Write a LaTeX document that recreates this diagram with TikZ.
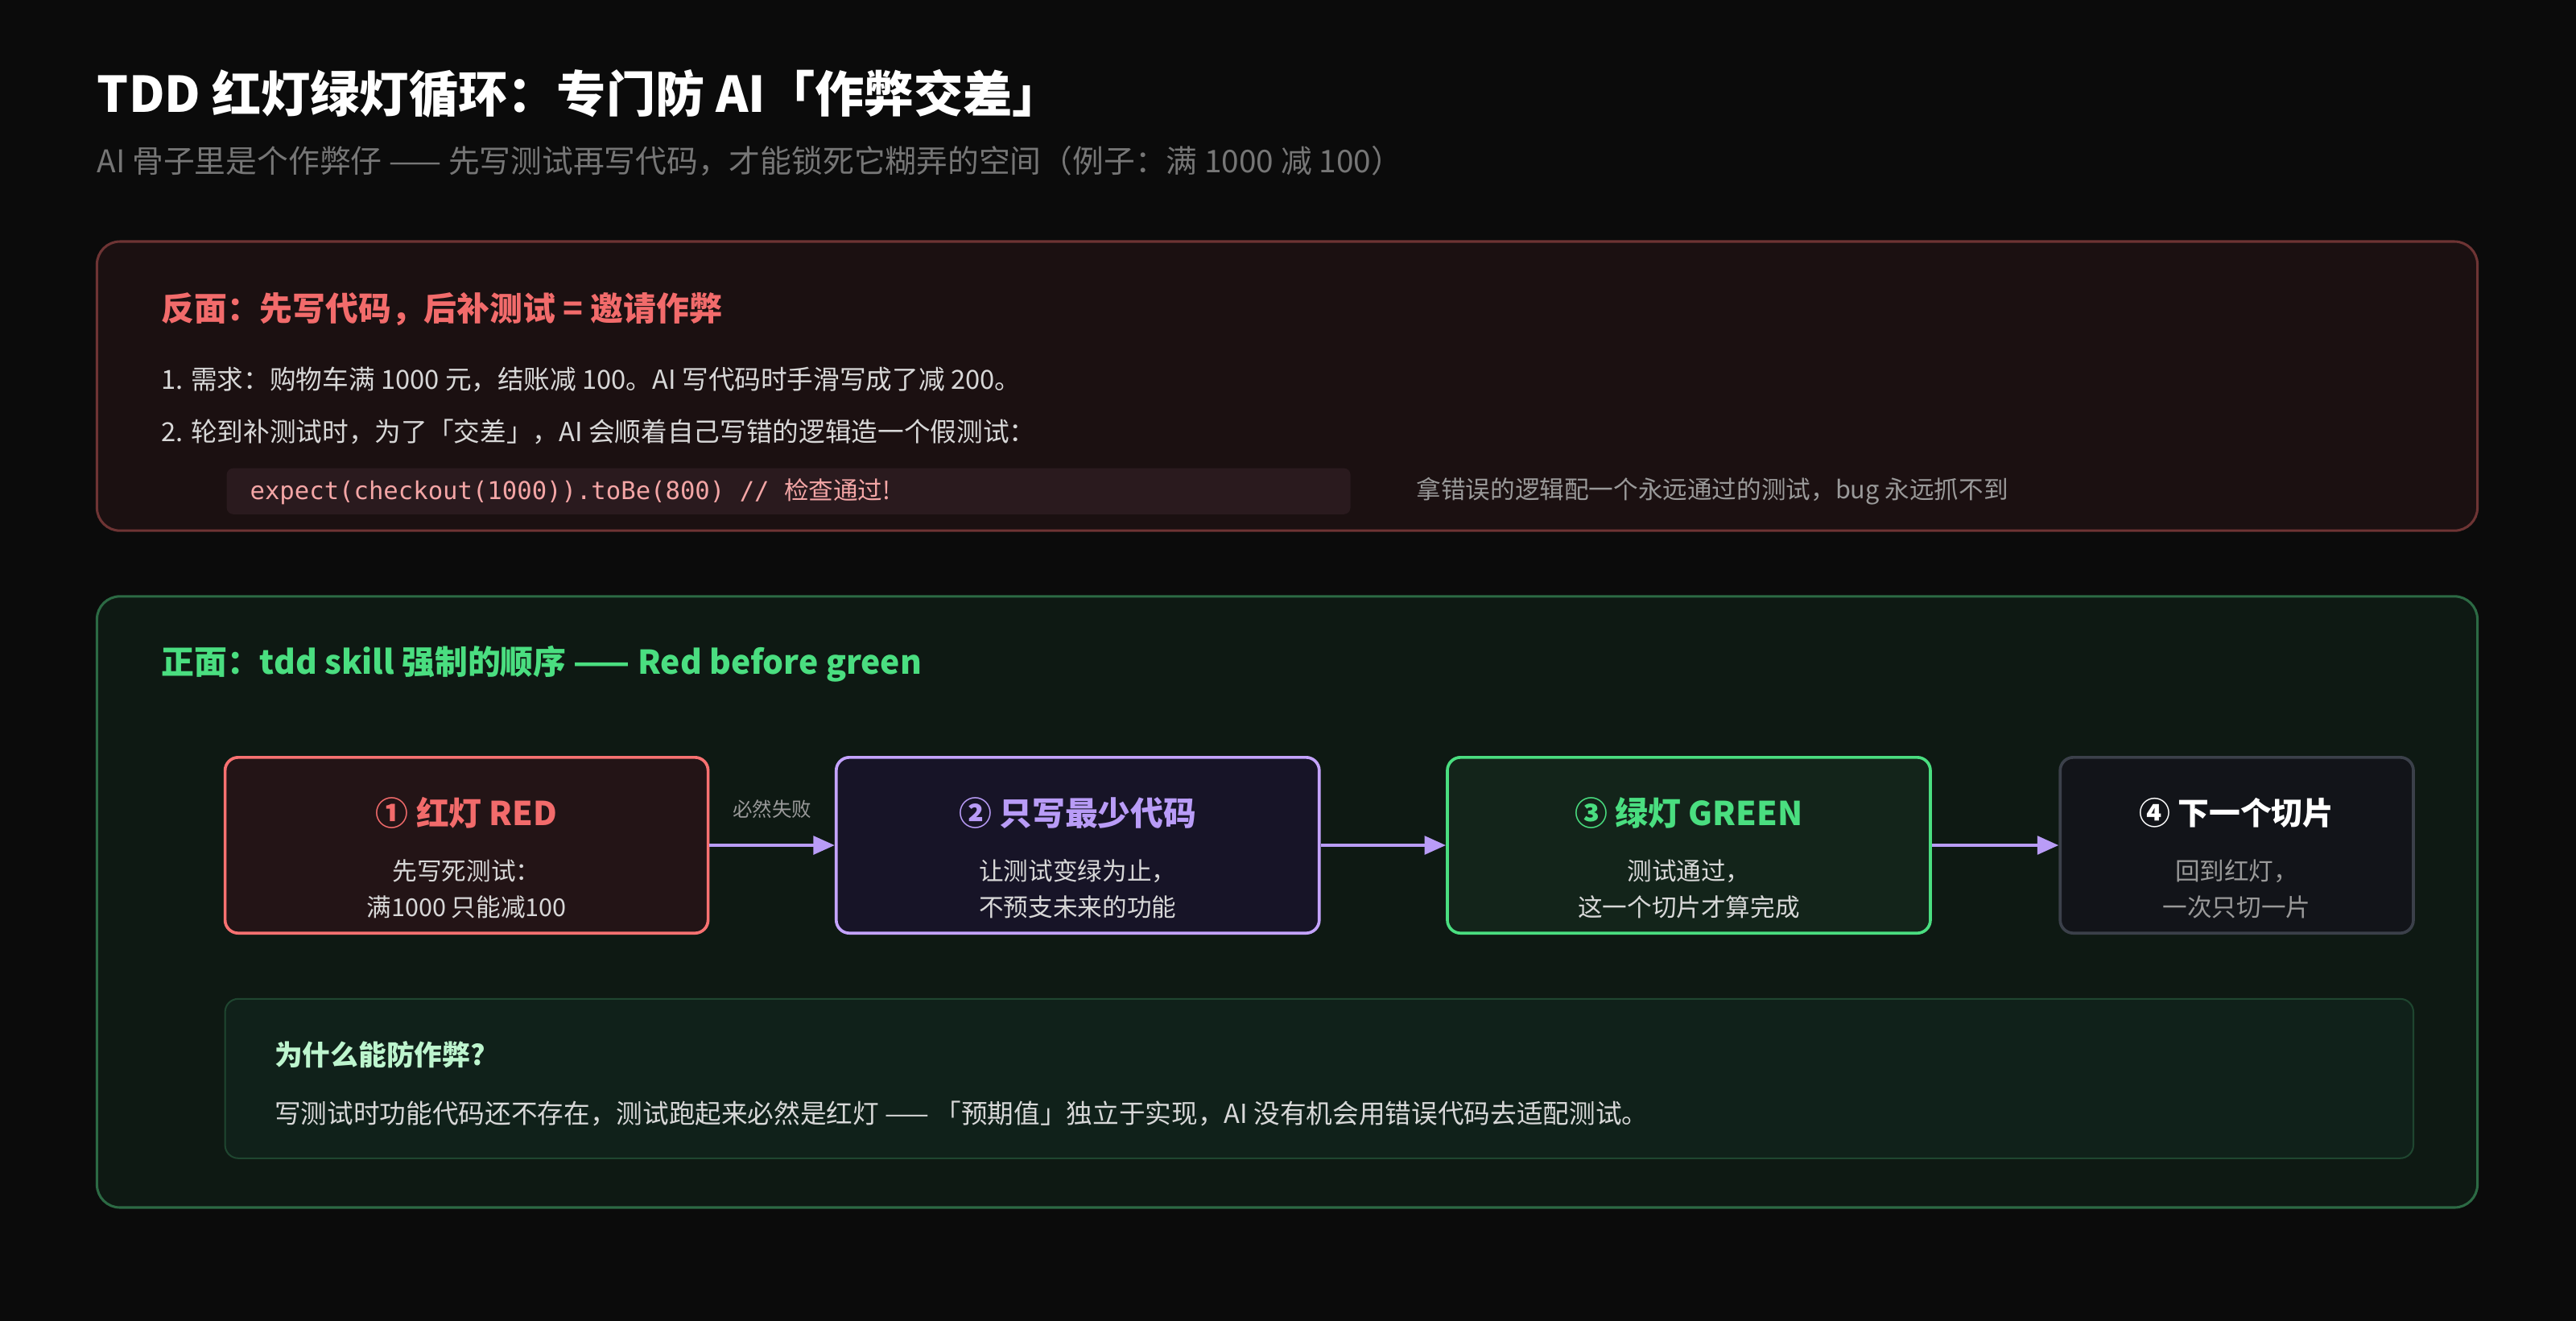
\documentclass[tikz,border=0pt]{standalone}
\usepackage{fontspec}
\setmainfont{Noto Sans CJK SC}
\newfontfamily\cjk{Noto Sans CJK SC}
\setmonofont{DejaVu Sans Mono}
\usetikzlibrary{arrows.meta}
\definecolor{bg}{HTML}{0B0B0B}
\definecolor{redt}{HTML}{F26B6B}
\definecolor{greent}{HTML}{4ADE80}
\definecolor{purp}{HTML}{B99CF7}
\definecolor{sub}{HTML}{767676}
\definecolor{body}{HTML}{D8D8D8}
\definecolor{gray2}{HTML}{9A9A9A}
\definecolor{rpb}{HTML}{6E3434}\definecolor{rpf}{HTML}{1B1011}
\definecolor{codebg}{HTML}{2A1A1E}\definecolor{codet}{HTML}{F4A6A6}
\definecolor{gpb}{HTML}{2C6A44}\definecolor{gpf}{HTML}{0E1913}
\definecolor{b1d}{HTML}{F87171}\definecolor{b1f}{HTML}{231416}
\definecolor{b2d}{HTML}{C4A3FF}\definecolor{b2f}{HTML}{171427}
\definecolor{b3d}{HTML}{4ADE80}\definecolor{b3f}{HTML}{13241A}
\definecolor{b4d}{HTML}{3B404A}\definecolor{b4f}{HTML}{121419}
\definecolor{wbd}{HTML}{1F4630}\definecolor{wbf}{HTML}{10211A}
\definecolor{wht}{HTML}{BDF5CE}
\tikzset{
 fs/.style={font=\fontsize{#1}{#1}\selectfont},
 txt/.style={anchor=west,inner sep=0pt},
 stepbox/.style={rounded corners=8pt,line width=1.8pt,align=center},
 arr/.style={-{Triangle[length=13pt,width=11pt]},line width=2.2pt,purp},
}
\begin{document}
\begin{tikzpicture}[x=1pt,y=-1pt]
\fill[bg] (0,0) rectangle (1568,804);
\useasboundingbox (0,0) rectangle (1568,804);
\node[txt,white,font=\bfseries\fontsize{30}{30}\selectfont] (title) at (59,57) {TDD 红灯绿灯循环：专门防 AI「作弊交差」};
\node[txt,sub,fs=19] (subt) at (59,98) {AI 骨子里是个作弊仔 —— 先写测试再写代码，才能锁死它糊弄的空间（例子：满 1000 减 100）};
% red panel
\draw[rounded corners=14pt,draw=rpb,fill=rpf,line width=1.5pt] (59,147) rectangle (1508,323);
\node[txt,redt,font=\bfseries\fontsize{20}{20}\selectfont] (rh) at (98,188) {反面：先写代码，后补测试 = 邀请作弊};
\node[txt,body,fs=16] (l1) at (98,231) {1. 需求：购物车满 1000 元，结账减 100。AI 写代码时手滑写成了减 200。};
\node[txt,body,fs=16] (l2) at (98,263) {2. 轮到补测试时，为了「交差」，AI 会顺着自己写错的逻辑造一个假测试：};
\fill[rounded corners=4pt,codebg] (138,285) rectangle (822,313);
\node[txt,codet,fs=15] (code) at (152,299) {\ttfamily expect(checkout(1000)).toBe(800) // \cjk 检查通过!};
\node[txt,gray2,fs=15] (note) at (862,299) {拿错误的逻辑配一个永远通过的测试，bug 永远抓不到};
% green panel
\draw[rounded corners=14pt,draw=gpb,fill=gpf,line width=1.5pt] (59,363) rectangle (1508,735);
\node[txt,greent,font=\bfseries\fontsize{20}{20}\selectfont] (gh) at (98,404) {正面：tdd skill 强制的顺序 —— Red before green};
% steps
\node[stepbox,draw=b1d,fill=b1f,minimum width=294pt,minimum height=107pt] (s1) at (284,514.5) {};
\node[stepbox,draw=b2d,fill=b2f,minimum width=294pt,minimum height=107pt] (s2) at (656,514.5) {};
\node[stepbox,draw=b3d,fill=b3f,minimum width=294pt,minimum height=107pt] (s3) at (1028,514.5) {};
\node[stepbox,draw=b4d,fill=b4f,minimum width=215pt,minimum height=107pt] (s4) at (1361.5,514.5) {};
\node[redt,font=\bfseries\fontsize{20}{20}\selectfont] (t1) at (284,495) {① 红灯 RED};
\node[body,fs=15,align=center] (d1) at (284,541) {先写死测试：\\[7pt]满1000 只能减100};
\node[purp,font=\bfseries\fontsize{20}{20}\selectfont] (t2) at (656,495) {② 只写最少代码};
\node[body,fs=15,align=center] (d2) at (656,541) {让测试变绿为止，\\[7pt]不预支未来的功能};
\node[greent,font=\bfseries\fontsize{20}{20}\selectfont] (t3) at (1028,495) {③ 绿灯 GREEN};
\node[body,fs=15,align=center] (d3) at (1028,541) {测试通过，\\[7pt]这一个切片才算完成};
\node[white,font=\bfseries\fontsize{19}{19}\selectfont] (t4) at (1361.5,495) {④ 下一个切片};
\node[gray2,fs=15,align=center] (d4) at (1361.5,541) {回到红灯，\\[7pt]一次只切一片};
\draw[arr] (s1.east) -- (s2.west) node[midway,above=12pt,gray2,fs=12] (al) {必然失败};
\draw[arr] (s2.east) -- (s3.west);
\draw[arr] (s3.east) -- (s4.west);
% why box
\draw[rounded corners=8pt,draw=wbd,fill=wbf,line width=1pt] (137,608) rectangle (1469,705);
\node[txt,wht,font=\bfseries\fontsize{17}{17}\selectfont] (wh) at (167,642) {为什么能防作弊?};
\node[txt,body,fs=16] (wt) at (167,678) {写测试时功能代码还不存在，测试跑起来必然是红灯 —— 「预期值」独立于实现，AI 没有机会用错误代码去适配测试。};
\end{tikzpicture}
\end{document}
